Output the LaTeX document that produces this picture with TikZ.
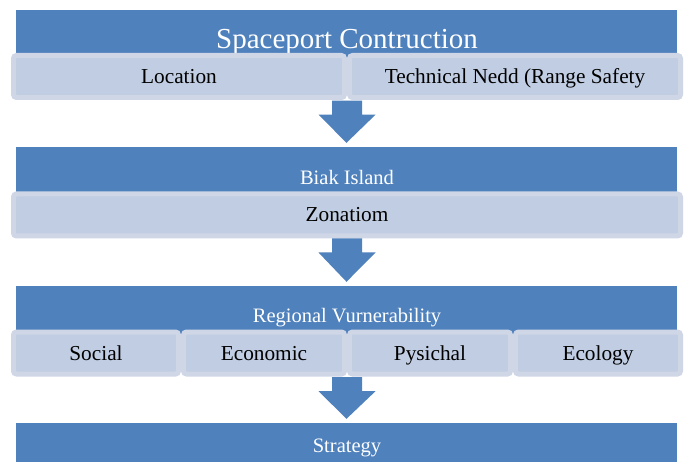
\documentclass[tikz,border=0pt]{standalone}
\usepackage{fontspec}
\setmainfont{Liberation Serif}
\usetikzlibrary{calc}

\definecolor{barblue}{RGB}{79,129,189}
\definecolor{cellfill}{RGB}{192,205,226}
\definecolor{celledge}{RGB}{207,215,231}

\tikzset{
  bar/.style={fill=barblue, minimum width=661pt, inner sep=0pt},
  bartext/.style={text=white, inner sep=0pt, anchor=base,
    font=\fontsize{20.5}{23}\selectfont},
  cell/.style={draw=celledge, line width=5pt, fill=cellfill, rounded corners=3pt,
    minimum height=42pt, inner sep=0pt, font=\fontsize{21.3}{23}\selectfont,
    text height=14pt, text depth=0pt},
}

% down arrow from a row of cells to the next bar
\newcommand{\flowarrow}[2]{%
  \fill[barblue] ($(#1.south)+(-15,0)$) -- ++(0,14) -- ++(-13.5,0)
    -- ($(#2.north)+(0,-4)$) -- ($(#1.south)+(28.5,14)$) -- ++(-13.5,0)
    -- ($(#1.south)+(15,0)$) -- cycle;
}

\begin{document}
\begin{tikzpicture}[x=1pt, y=-1pt]
  \useasboundingbox[fill=white] (0,0) rectangle (688,462);

  % bars
  \node[bar, minimum height=54pt] (bar1) at (346.5,37) {};
  \node[bar, minimum height=54pt] (bar2) at (346.5,174) {};
  \node[bar, minimum height=54pt] (bar3) at (346.5,313) {};
  \node[bar, minimum height=39pt] (bar4) at (346.5,442.5) {};

  % first row
  \node[bartext, font=\fontsize{29}{31}\selectfont] (t1) at (347,49) {Spaceport Contruction};
  \node[cell, minimum width=331pt] (loc) at (179,76.5) {Location};
  \node[cell, minimum width=331pt] (tech) at (515,76.5) {Technical Nedd (Range Safety};
  \node[inner sep=0pt] (r1) at ($(loc.south)!0.5!(tech.south)$) {};

  % second row
  \node[bartext] (t2) at (347,185) {Biak Island};
  \node[cell, minimum width=667pt] (zon) at (347,215) {Zonatiom};

  % third row
  \node[bartext] (t3) at (347,323) {Regional Vurnerability};
  \node[cell, minimum width=165pt] (soc) at (96,353) {Social};
  \node[cell, minimum width=161pt] (eco) at (264,353) {Economic};
  \node[cell, minimum width=161pt] (phy) at (430,353) {Pysichal};
  \node[cell, minimum width=165pt] (ecl) at (598,353) {Ecology};
  \node[inner sep=0pt] (r3) at ($(eco.south)!0.5!(phy.south)$) {};

  % last bar
  \node[bartext] (t4) at (347,452) {Strategy};

  % arrows
  \flowarrow{r1}{bar2}
  \flowarrow{zon}{bar3}
  \flowarrow{r3}{bar4}
\end{tikzpicture}
\end{document}
